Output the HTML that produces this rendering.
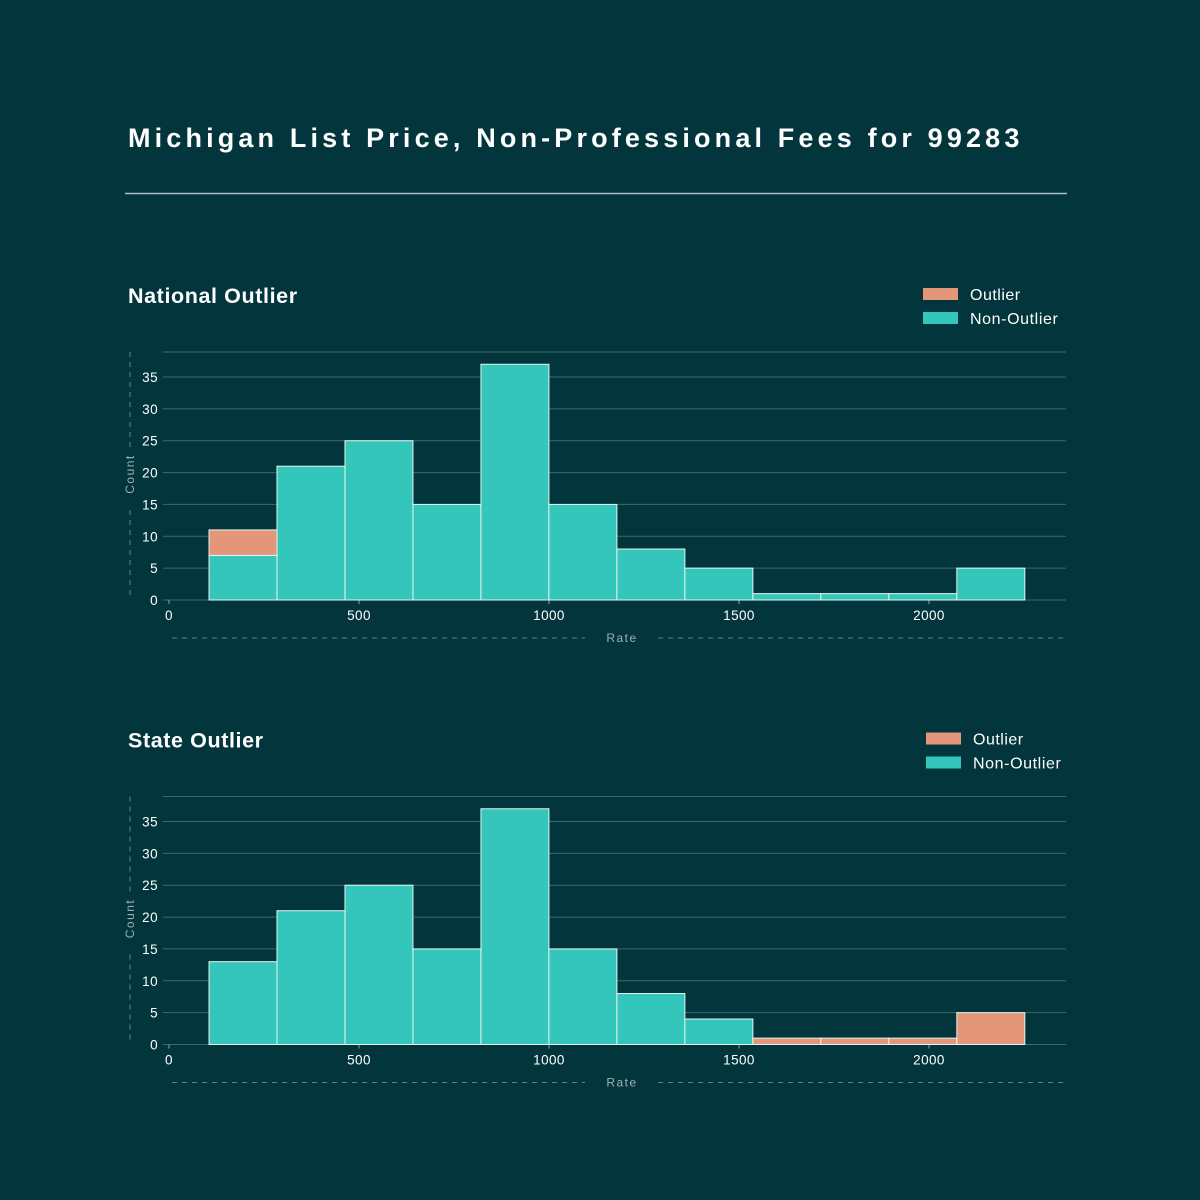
<!DOCTYPE html>
<html><head><meta charset="utf-8"><style>
body{margin:0;background:#02353c;}
svg{display:block;font-family:"Liberation Sans","DejaVu Sans",sans-serif;}
</style></head><body>
<svg id="s" width="1200" height="1200" viewBox="0 0 1200 1200">
<rect width="1200" height="1200" fill="#02353c"/>
<text x="128" y="147" fill="#fff" font-size="27" font-weight="bold" letter-spacing="4.15">Michigan List Price, Non-Professional Fees for 99283</text>
<line x1="125" y1="193.5" x2="1067" y2="193.5" stroke="#a9bfc0" stroke-width="1.5"/>
</svg>
<script>
const binStart = 105.3;
const binWidth = 178.9;
const xTicks = [0, 500, 1000, 1500, 2000];
const yTicks = [0, 5, 10, 15, 20, 25, 30, 35];
const nationalNon = [7, 21, 25, 15, 37, 15, 8, 5, 1, 1, 1, 5];
const nationalOut = [4, 0, 0, 0, 0, 0, 0, 0, 0, 0, 0, 0];
const stateNon = [13, 21, 25, 15, 37, 15, 8, 4, 0, 0, 0, 0];
const stateOut = [0, 0, 0, 0, 0, 0, 0, 0, 1, 1, 1, 5];
const svg = document.getElementById('s');
const NS = 'http://www.w3.org/2000/svg';
function mk(tag, attrs, text) {
  const e = document.createElementNS(NS, tag);
  for (const k in attrs) e.setAttribute(k, attrs[k]);
  if (text !== undefined) e.textContent = text;
  svg.appendChild(e);
  return e;
}
function panel(title, y0, non, out, prefix, legX) {
  const xs = v => 169 + v * 0.38;
  const ys = v => y0 - v * 6.371;
  let e = mk('text', {x: 128, y: y0 - 297, fill: '#fff', 'font-size': 21.5, 'font-weight': 'bold', 'letter-spacing': 0.6}, title);
  
  
  e = mk('rect', {x: legX, y: y0 - 312, width: 35, height: 12, fill: '#e3967a'});
  
  
  e = mk('text', {x: legX + 47, y: y0 - 300, fill: '#fff', 'font-size': 16, 'letter-spacing': 0.5}, 'Outlier');
  
  
  e = mk('rect', {x: legX, y: y0 - 288, width: 35, height: 12, fill: '#35c6bb'});
  
  
  e = mk('text', {x: legX + 47, y: y0 - 276, fill: '#fff', 'font-size': 16, 'letter-spacing': 0.6}, 'Non-Outlier');
  
  
  const top = y0 - 248;
  e = mk('line', {x1: 163, x2: 1066, y1: top, y2: top, stroke: '#3d6a6e', 'stroke-width': 1});
  
  
  yTicks.forEach(t => {
    const y = ys(t);
    let g = mk('line', {x1: 163, x2: 1066, y1: y, y2: y, stroke: '#3d6a6e', 'stroke-width': 1});
    
    
    let l = mk('text', {x: 158, y: y + 5, fill: '#fff', 'font-size': 13.5, 'text-anchor': 'end', 'letter-spacing': 0.4}, t);
    
    
  });
  xTicks.forEach(t => {
    const x = xs(t);
    let k = mk('line', {x1: x, x2: x, y1: y0, y2: y0 + 4, stroke: '#8aa', 'stroke-width': 1});
    
    
    let l = mk('text', {x: x, y: y0 + 20, fill: '#fff', 'font-size': 13.5, 'text-anchor': 'middle', 'letter-spacing': 0.4}, t);
    
    
  });
  non.forEach((v, i) => {
    const x0 = xs(binStart + i * binWidth), x1 = xs(binStart + (i + 1) * binWidth);
    if (v > 0) {
      let r = mk('rect', {x: x0, y: ys(v), width: x1 - x0, height: ys(0) - ys(v), fill: '#35c6bb', stroke: '#e6f5f3', 'stroke-width': 1});
      
      
    }
    const o = out[i];
    if (o > 0) {
      let r = mk('rect', {x: x0, y: ys(v + o), width: x1 - x0, height: ys(v) - ys(v + o), fill: '#e3967a', stroke: '#e6f5f3', 'stroke-width': 1});
      
      
    }
  });
  e = mk('line', {x1: 130, x2: 130, y1: top, y2: y0 - 150, stroke: '#5f8588', 'stroke-dasharray': '5,5'});
  
  
  e = mk('line', {x1: 130, x2: 130, y1: y0 - 90, y2: y0, stroke: '#5f8588', 'stroke-dasharray': '5,5'});
  
  
  e = mk('text', {x: 130, y: y0 - 126, fill: '#9bb3b4', 'font-size': 12, 'letter-spacing': 1.5, 'text-anchor': 'middle', transform: `rotate(-90 130 ${y0 - 126}) translate(0 4)`}, 'Count');
  
  
  e = mk('line', {x1: 172, x2: 585, y1: y0 + 38, y2: y0 + 38, stroke: '#5f8588', 'stroke-dasharray': '5,5'});
  
  
  e = mk('line', {x1: 658, x2: 1066, y1: y0 + 38, y2: y0 + 38, stroke: '#5f8588', 'stroke-dasharray': '5,5'});
  
  
  e = mk('text', {x: 622, y: y0 + 42, fill: '#9bb3b4', 'font-size': 12, 'letter-spacing': 1.5, 'text-anchor': 'middle'}, 'Rate');
  
  
}
panel('National Outlier', 600, nationalNon, nationalOut, 'national', 923);
panel('State Outlier', 1044.5, stateNon, stateOut, 'state', 926);
</script>
</body></html>
